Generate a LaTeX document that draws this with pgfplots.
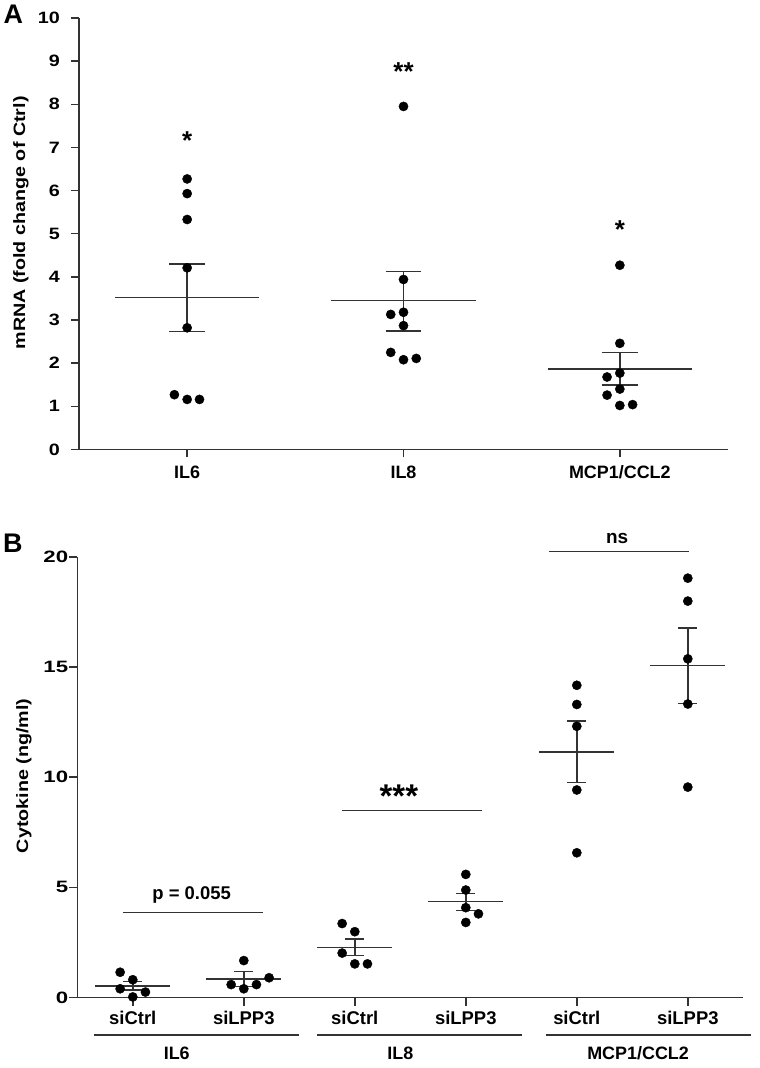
\documentclass[border=0pt]{standalone}
\usepackage{fontspec}
\setmainfont{Liberation Sans}
\newfontfamily\wide{Liberation Sans}[FakeStretch=1.2]
\newfontfamily\wider{Liberation Sans}[FakeStretch=1.35]
\usepackage{pgfplots}
\pgfplotsset{compat=1.18}
\definecolor{ax}{HTML}{333333}
\pgfplotsset{
  statline/.style={ax, line width=1.5bp, mark=none, unbounded coords=jump},
  dots/.style={only marks, mark=*, mark size=4.6bp, black},
}
\begin{document}
\begin{tikzpicture}[x=1bp,y=1bp]
\useasboundingbox (0,0) rectangle (760,1068);
\node[anchor=base west, inner sep=0pt, font=\bfseries\fontsize{27}{27}\selectfont] at (3.5,1044.7) {A};
\node[anchor=base west, inner sep=0pt, font=\bfseries\fontsize{27}{27}\selectfont] at (3,515.7) {B};
% ---------------- Panel A ----------------
\begin{axis}[
  at={(79bp,618.5bp)}, anchor=south west,
  scale only axis, width=649bp, height=431.5bp,
  xmin=0.5, xmax=3.5, ymin=0, ymax=10,
  axis x line=bottom, axis y line=left,
  axis line style={ax, line width=1.5bp, -},
  tick style={ax, line width=1.5bp},
  tick align=outside, major tick length=8bp,
  xtick={1,2,3}, xticklabels={IL6,IL8,MCP1/CCL2},
  ytick={0,1,...,10},
  /pgf/number format/assume math mode=true,
  yticklabel style={font=\wide\bfseries\fontsize{16.5}{16.5}\selectfont, inner sep=0pt, anchor=east, xshift=-11bp},
  xticklabel style={font=\bfseries\fontsize{18}{18}\selectfont, inner sep=0pt, anchor=north, yshift=-8bp},
  ylabel={mRNA (fold change of Ctrl)},
  ylabel style={font=\wide\bfseries\fontsize{16.5}{16.5}\selectfont, at={(axis description cs:-0.0894,0.525)}, anchor=center},
  clip=false,
]
% IL6
\addplot[dots] coordinates {(1,6.27) (1,5.93) (1,5.33) (1,4.21) (1,2.82) (0.941,1.27) (1,1.16) (1.057,1.16)};
\addplot[statline] coordinates {(0.666,3.52) (1.334,3.52) (1,nan) (1,2.74) (1,4.30) (1,nan) (0.917,4.30) (1.083,4.30) (1,nan) (0.917,2.74) (1.083,2.74)};
% IL8
\addplot[dots] coordinates {(2,7.95) (2,3.94) (1.941,3.13) (2,3.18) (2,2.87) (1.941,2.25) (2,2.08) (2.059,2.11)};
\addplot[statline] coordinates {(1.666,3.45) (2.334,3.45) (2,nan) (2,2.75) (2,4.12) (2,nan) (1.917,4.12) (2.083,4.12) (2,nan) (1.917,2.75) (2.083,2.75)};
% MCP1/CCL2
\addplot[dots] coordinates {(3,4.27) (3,2.46) (3,1.77) (2.941,1.68) (3,1.40) (2.941,1.26) (3,1.02) (3.059,1.04)};
\addplot[statline] coordinates {(2.666,1.87) (3.334,1.87) (3,nan) (3,1.49) (3,2.25) (3,nan) (2.917,2.25) (3.083,2.25) (3,nan) (2.917,1.49) (3.083,1.49)};
\node[anchor=base, inner sep=0pt, font=\bfseries\fontsize{26}{26}\selectfont] at (axis cs:1,6.95) {*};
\node[anchor=base, inner sep=0pt, font=\bfseries\fontsize{26}{26}\selectfont] at (axis cs:2,8.55) {**};
\node[anchor=base, inner sep=0pt, font=\bfseries\fontsize{26}{26}\selectfont] at (axis cs:3,4.90) {*};
\end{axis}
% ---------------- Panel B ----------------
\begin{axis}[
  at={(77.3bp,70.4bp)}, anchor=south west,
  scale only axis, width=666bp, height=440.8bp,
  xmin=0.5, xmax=6.5, ymin=0, ymax=20,
  axis x line=bottom, axis y line=left,
  axis line style={ax, line width=1.5bp, -},
  tick style={ax, line width=1.5bp},
  tick align=outside, major tick length=8bp,
  xtick={1,2,3,4,5,6}, xticklabels={siCtrl,siLPP3,siCtrl,siLPP3,siCtrl,siLPP3},
  ytick={0,5,10,15,20},
  /pgf/number format/assume math mode=true,
  yticklabel style={font=\wider\bfseries\fontsize{16.5}{16.5}\selectfont, inner sep=0pt, anchor=east, xshift=-1bp},
  xticklabel style={font=\bfseries\fontsize{18.5}{18.5}\selectfont, inner sep=0pt, anchor=north, yshift=-5bp},
  ylabel={Cytokine (ng/ml)},
  ylabel style={font=\wide\bfseries\fontsize{16.5}{16.5}\selectfont, at={(axis description cs:-0.080,0.503)}, anchor=center},
  clip=false,
]
% IL6 siCtrl / siLPP3
\addplot[dots] coordinates {(0.886,1.15) (1,0.81) (0.886,0.40) (1.114,0.25) (1,0.03)};
\addplot[statline] coordinates {(0.662,0.53) (1.338,0.53) (1,nan) (1,0.34) (1,0.72) (1,nan) (0.915,0.72) (1.085,0.72) (1,nan) (0.915,0.34) (1.085,0.34)};
\addplot[dots] coordinates {(2,1.68) (1.886,0.59) (2,0.40) (2.114,0.59) (2.228,0.90)};
\addplot[statline] coordinates {(1.662,0.84) (2.338,0.84) (2,nan) (2,0.50) (2,1.18) (2,nan) (1.915,1.18) (2.085,1.18) (2,nan) (1.915,0.50) (2.085,0.50)};
% IL8 siCtrl / siLPP3
\addplot[dots] coordinates {(2.886,3.36) (3,2.99) (2.886,2.02) (3,1.53) (3.114,1.53)};
\addplot[statline] coordinates {(2.662,2.27) (3.338,2.27) (3,nan) (3,1.90) (3,2.65) (3,nan) (2.915,2.65) (3.085,2.65) (3,nan) (2.915,1.90) (3.085,1.90)};
\addplot[dots] coordinates {(4,5.59) (4,4.88) (4,4.08) (4.114,3.80) (4,3.41)};
\addplot[statline] coordinates {(3.662,4.36) (4.338,4.36) (4,nan) (4,3.96) (4,4.73) (4,nan) (3.915,4.73) (4.085,4.73) (4,nan) (3.915,3.96) (4.085,3.96)};
% MCP1/CCL2 siCtrl / siLPP3
\addplot[dots] coordinates {(5,14.17) (5,13.30) (5,12.31) (5,9.42) (5,6.57)};
\addplot[statline] coordinates {(4.662,11.15) (5.338,11.15) (5,nan) (5,9.75) (5,12.54) (5,nan) (4.915,12.54) (5.085,12.54) (5,nan) (4.915,9.75) (5.085,9.75)};
\addplot[dots] coordinates {(6,19.03) (6,17.99) (6,15.37) (6,13.32) (6,9.55)};
\addplot[statline] coordinates {(5.662,15.06) (6.338,15.06) (6,nan) (6,13.35) (6,16.76) (6,nan) (5.915,16.76) (6.085,16.76) (6,nan) (5.915,13.35) (6.085,13.35)};
% significance
\addplot[statline] coordinates {(0.915,3.87) (2.171,3.87)};
\node[anchor=base, inner sep=0pt, font=\bfseries\fontsize{18.5}{18.5}\selectfont] at (axis cs:1.53,4.47) {p = 0.055};
\addplot[statline] coordinates {(2.883,8.48) (4.144,8.48)};
\node[anchor=base, inner sep=0pt, font=\bfseries\fontsize{33}{33}\selectfont] at (axis cs:3.397,8.62) {***};
\addplot[statline] coordinates {(4.753,20.23) (6.014,20.23)};
\node[anchor=base, inner sep=0pt, font=\bfseries\fontsize{19}{19}\selectfont] at (axis cs:5.363,20.61) {ns};
% group lines and labels
\addplot[statline] coordinates {(0.654,-1.70) (2.501,-1.70)};
\addplot[statline] coordinates {(2.658,-1.70) (4.505,-1.70)};
\addplot[statline] coordinates {(4.721,-1.70) (6.568,-1.70)};
\node[anchor=base, inner sep=0pt, font=\bfseries\fontsize{18}{18}\selectfont] at (axis cs:1.396,-2.79) {IL6};
\node[anchor=base, inner sep=0pt, font=\bfseries\fontsize{18}{18}\selectfont] at (axis cs:3.41,-2.79) {IL8};
\node[anchor=base, inner sep=0pt, font=\bfseries\fontsize{18}{18}\selectfont] at (axis cs:5.552,-2.79) {MCP1/CCL2};
\end{axis}
\end{tikzpicture}
\end{document}
